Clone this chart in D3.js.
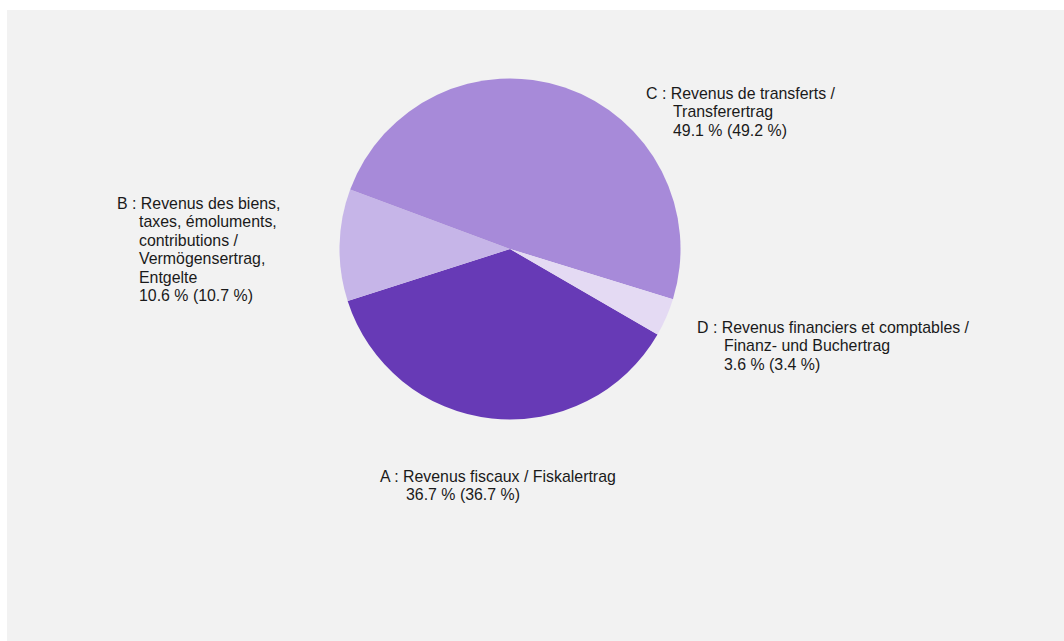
<!DOCTYPE html>
<html>
<head>
<meta charset="utf-8">
<script src="https://cdn.jsdelivr.net/npm/d3@7"></script>
<style>
  body { margin: 0; background: #ffffff; }
  svg text { font-family: "Liberation Sans", Arial, sans-serif; font-size: 15.9px; fill: #1a1a1a; }
</style>
</head>
<body>
<div id="chart"></div>
<script>
// data
var codes = ["A", "B", "C", "D"];
var names = [
  ["Revenus fiscaux / Fiskalertrag"],
  ["Revenus des biens,", "taxes, émoluments,", "contributions /", "Vermögensertrag,", "Entgelte"],
  ["Revenus de transferts /", "Transferertrag"],
  ["Revenus financiers et comptables /", "Finanz- und Buchertrag"]
];
var shares = [36.7, 10.6, 49.1, 3.6];
var previous = [36.7, 10.7, 49.2, 3.4];
var colors = ["#673ab6", "#c6b5e8", "#a78ad9", "#e4daf3"];

var svgWidth = 1064;
var svgHeight = 641;

// label placement (layout only)
var labelPos = [
  { x: 380, y: 482, indent: 26 },
  { x: 117, y: 209, indent: 22 },
  { x: 646, y: 99, indent: 27 },
  { x: 697, y: 333, indent: 27 }
];
var lineHeight = 18.4;

var svg = d3.select("#chart")
  .append("svg")
  .attr("width", svgWidth)
  .attr("height", svgHeight);

// grey panel
svg.append("rect")
  .attr("x", 7)
  .attr("y", 10)
  .attr("width", svgWidth - 7)
  .attr("height", svgHeight - 10)
  .attr("fill", "#f2f2f2");

var cx = 510, cy = 249, radius = 170.5;

var data = codes.map(function(c, i) {
  return { code: c, name: names[i], share: shares[i], prev: previous[i], color: colors[i], i: i };
});

var pie = d3.pie()
  .sort(null)
  .value(d => d.share)
  .startAngle(120.1 * Math.PI / 180)
  .endAngle(120.1 * Math.PI / 180 + 2 * Math.PI);

var arc = d3.arc()
  .innerRadius(0)
  .outerRadius(radius);

var pieGroup = svg.append("g")
  .attr("transform", `translate(${cx}, ${cy})`);

pieGroup.selectAll("path")
  .data(pie(data))
  .enter()
  .append("path")
  .attr("d", arc)
  .attr("fill", d => d.data.color);

// labels
var labels = svg.append("g")
  .selectAll("text")
  .data(data)
  .enter()
  .append("text")
  .attr("x", d => labelPos[d.i].x)
  .attr("y", d => labelPos[d.i].y);

labels.each(function(d) {
  var t = d3.select(this);
  var lines = d.name.slice();
  lines.push(d3.format(".1f")(d.share) + " % (" + d3.format(".1f")(d.prev) + " %)");
  lines.forEach(function(line, k) {
    t.append("tspan")
      .attr("x", labelPos[d.i].x + (k === 0 ? 0 : labelPos[d.i].indent))
      .attr("y", labelPos[d.i].y + k * lineHeight)
      .text(k === 0 ? d.code + " : " + line : line);
  });
});
</script>
</body>
</html>
